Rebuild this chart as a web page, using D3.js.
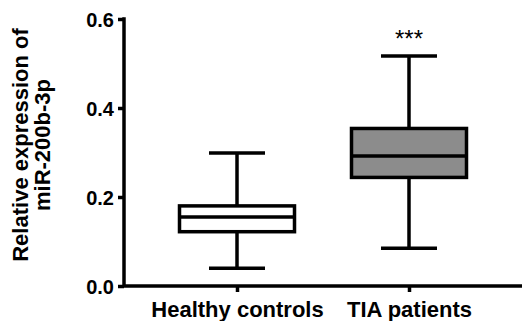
<!DOCTYPE html>
<html><head><meta charset="utf-8">
<script src="https://cdn.jsdelivr.net/npm/d3@7"></script>
<style>body{margin:0;background:#fff}svg{display:block}text{font-family:"Liberation Sans",Arial,sans-serif;font-weight:bold;fill:#000}</style>
</head><body>
<script>
const categories = ["Healthy controls", "TIA patients"];
const whiskerLow = [0.04, 0.085];
const q1 = [0.122, 0.244];
const medians = [0.155, 0.292];
const q3 = [0.180, 0.354];
const whiskerHigh = [0.299, 0.517];
const fills = ["#ffffff", "#8c8c8c"];
const significance = ["", "***"];
const yTicks = [0.0, 0.2, 0.4, 0.6];
const yTitle = ["Relative expression of", "miR-200b-3p"];

(function(){
const W = 522, H = 321;
const svg = d3.select("body").append("svg").attr("width", W).attr("height", H);
const mL = 124, mR = 522, mT = 19, mB = 286;
const y = d3.scaleLinear().domain([0, 0.6]).range([mB, mT]);
const x = d3.scalePoint().domain(categories).range([mL, mR]).padding(0.657);

const lw = 3.5;
const yAxis = svg.append("g").attr("transform", `translate(${mL},0)`)
  .call(d3.axisLeft(y).tickValues(yTicks).tickFormat(d3.format(".1f")).tickSize(6).tickPadding(4));
const xAxis = svg.append("g").attr("transform", `translate(0,${mB})`)
  .call(d3.axisBottom(x).tickSize(6).tickPadding(9));
[yAxis, xAxis].forEach(g => {
  g.select(".domain").attr("stroke", "#000").attr("stroke-width", lw);
  g.selectAll(".tick line").attr("stroke", "#000").attr("stroke-width", lw);
});
yAxis.select(".domain").attr("d", `M0,${mT-1.75}V${mB}`);
xAxis.select(".domain").attr("d", `M${mL},0H${mR}`);
yAxis.selectAll(".tick text").style("font-size", "20px").attr("dy", "0.36em");
xAxis.selectAll(".tick text").style("font-size", "22px").attr("dy", "0.72em");

const boxW = 115, capW = 56;
categories.forEach((c, i) => {
  const cx = x(c);
  const g = svg.append("g").attr("stroke", "#000").attr("stroke-width", lw);
  g.append("line").attr("x1", cx).attr("x2", cx).attr("y1", y(whiskerHigh[i])).attr("y2", y(q3[i]));
  g.append("line").attr("x1", cx).attr("x2", cx).attr("y1", y(q1[i])).attr("y2", y(whiskerLow[i]));
  g.append("line").attr("x1", cx - capW/2).attr("x2", cx + capW/2).attr("y1", y(whiskerHigh[i])).attr("y2", y(whiskerHigh[i]));
  g.append("line").attr("x1", cx - capW/2).attr("x2", cx + capW/2).attr("y1", y(whiskerLow[i])).attr("y2", y(whiskerLow[i]));
  g.append("rect").attr("x", cx - boxW/2).attr("width", boxW).attr("y", y(q3[i])).attr("height", y(q1[i]) - y(q3[i])).attr("fill", fills[i]);
  g.append("line").attr("x1", cx - boxW/2).attr("x2", cx + boxW/2).attr("y1", y(medians[i])).attr("y2", y(medians[i]));
  if (significance[i]) {
    svg.append("text").attr("x", cx).attr("y", y(whiskerHigh[i]) - 9).attr("text-anchor", "middle")
      .style("font-size", "24px").style("font-weight", "normal").text(significance[i]);
  }
});

const t = svg.append("text").attr("transform", `translate(0,145) rotate(-90)`).attr("text-anchor", "middle").style("font-size", "22px");
t.append("tspan").attr("x", 0).attr("y", 28).text(yTitle[0]);
t.append("tspan").attr("x", 0).attr("y", 50).text(yTitle[1]);
})();
</script>
</body></html>
